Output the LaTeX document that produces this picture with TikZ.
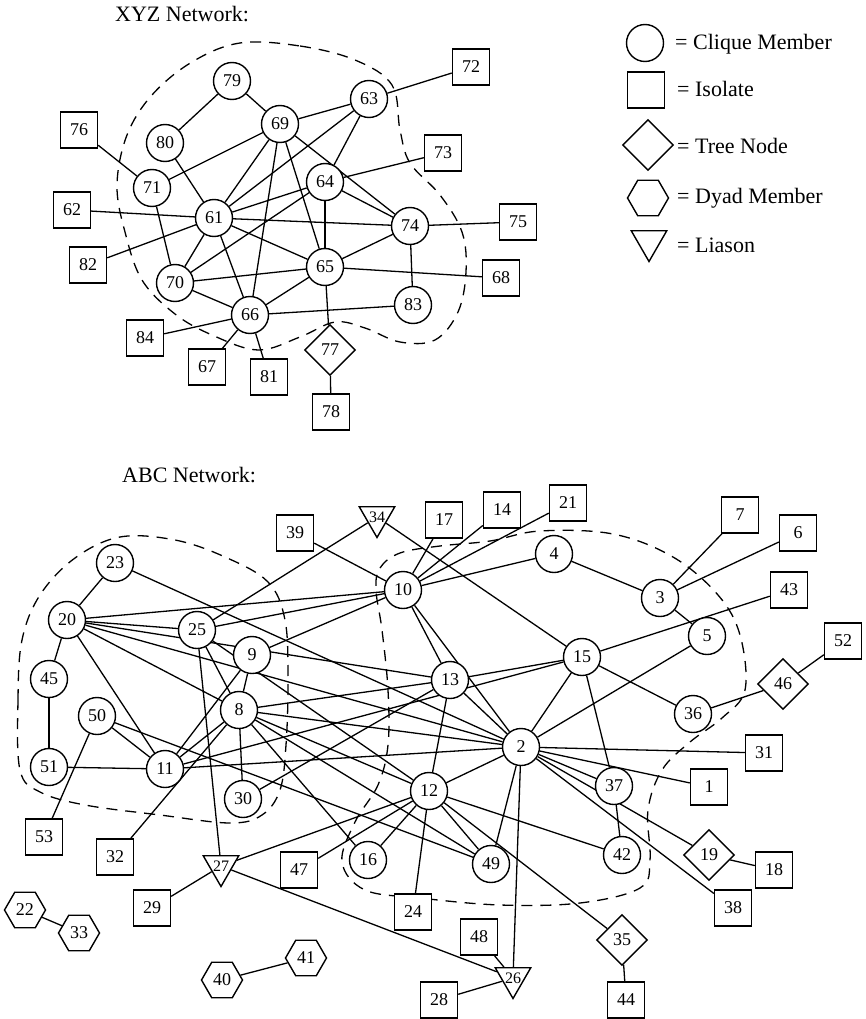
\documentclass[tikz,border=0pt]{standalone}
\usepackage{fontspec}
\setmainfont{Liberation Serif}
\usetikzlibrary{shapes.geometric,backgrounds}

\tikzset{
	clq/.style={circle, draw, line width=1.4pt, fill=white, minimum size=37pt, inner sep=0pt},
	iso/.style={rectangle, draw, line width=1.4pt, fill=white, minimum width=37pt, minimum height=36pt, inner sep=0pt},
	tree/.style={diamond, draw, line width=1.4pt, fill=white, minimum size=51pt, inner sep=0pt},
	dyad/.style={regular polygon, regular polygon sides=6, draw, line width=1.4pt, fill=white, minimum size=41pt, inner sep=0pt},
	lia/.style={regular polygon, regular polygon sides=3, shape border rotate=180, draw, line width=1.4pt, fill=white, minimum size=41pt, inner sep=-4pt, font=\fontsize{16}{16}\selectfont},
	link/.style={line width=1.3pt},
	blob/.style={line width=1.3pt, dash pattern=on 11pt off 8pt},
	ttl/.style={font=\fontsize{22}{24}\selectfont, inner sep=0pt, anchor=base west},
}

\begin{document}
\begin{tikzpicture}[x=1pt, y=-1pt, font=\fontsize{18}{18}\selectfont]
		\useasboundingbox (0,0) rectangle (865,1019);
		% Titles
		\node[ttl] (xyz) at (115,22) {XYZ Network:};
		\node[ttl] (abc) at (122,482) {ABC Network:};
		% Legend
		\node[clq] (kclq) at (645,43) {};
		\node[iso] (kiso) at (646,90) {};
		\node[tree] (ktree) at (648,145) {};
		\node[dyad] (kdyad) at (648,198) {};
		\node[lia] (klia) at (649,241) {};
		\node[ttl] (tclq) at (675,50) {= Clique Member};
		\node[ttl] (tiso) at (677,97) {= Isolate};
		\node[ttl] (ttree) at (677,154) {= Tree Node};
		\node[ttl] (tdyad) at (677,204) {= Dyad Member};
		\node[ttl] (tlia) at (677,252) {= Liason};
		% XYZ network
		\node[clq] (n79) at (232,81) {79};
		\node[clq] (n80) at (165,143) {80};
		\node[clq] (n71) at (152,188) {71};
		\node[iso] (n76) at (79,130) {76};
		\node[iso] (n62) at (72,210) {62};
		\node[clq] (n61) at (214,218) {61};
		\node[clq] (n69) at (280,124) {69};
		\node[clq] (n63) at (369,99) {63};
		\node[iso] (n72) at (471,67) {72};
		\node[iso] (n73) at (443,153) {73};
		\node[clq] (n64) at (325,182) {64};
		\node[clq] (n74) at (410,226) {74};
		\node[iso] (n75) at (518,222) {75};
		\node[clq] (n65) at (325,267) {65};
		\node[iso] (n68) at (501,278) {68};
		\node[clq] (n83) at (413,305) {83};
		\node[clq] (n70) at (175,283) {70};
		\node[iso] (n82) at (88,265) {82};
		\node[clq] (n66) at (250,315) {66};
		\node[iso] (n84) at (145,338) {84};
		\node[iso] (n67) at (207,367) {67};
		\node[iso] (n81) at (269,377) {81};
		\node[tree] (n77) at (330,350) {77};
		\node[iso] (n78) at (331,412) {78};
		% ABC network
		\node[clq] (n23) at (115,563) {23};
		\node[clq] (n20) at (67,620) {20};
		\node[clq] (n25) at (197,630) {25};
		\node[clq] (n9) at (252,655) {9};
		\node[clq] (n45) at (49,679) {45};
		\node[clq] (n50) at (97,716) {50};
		\node[clq] (n51) at (49,767) {51};
		\node[clq] (n11) at (165,769) {11};
		\node[clq] (n8) at (239,710) {8};
		\node[clq] (n30) at (243,799) {30};
		\node[iso] (n39) at (295,533) {39};
		\node[lia] (n34) at (377,517) {34};
		\node[iso] (n17) at (444,520) {17};
		\node[iso] (n14) at (502,510) {14};
		\node[iso] (n21) at (568,503) {21};
		\node[clq] (n10) at (403,590) {10};
		\node[clq] (n4) at (554,554) {4};
		\node[iso] (n7) at (740,515) {7};
		\node[iso] (n6) at (798,533) {6};
		\node[iso] (n43) at (789,590) {43};
		\node[clq] (n3) at (660,598) {3};
		\node[clq] (n5) at (707,636) {5};
		\node[iso] (n52) at (843,641) {52};
		\node[clq] (n15) at (582,657) {15};
		\node[tree] (n46) at (783,684) {46};
		\node[clq] (n36) at (693,714) {36};
		\node[iso] (n31) at (764,753) {31};
		\node[iso] (n1) at (709,787) {1};
		\node[clq] (n37) at (614,786) {37};
		\node[clq] (n2) at (521,747) {2};
		\node[clq] (n13) at (450,680) {13};
		\node[clq] (n12) at (429,791) {12};
		\node[clq] (n16) at (368,860) {16};
		\node[clq] (n49) at (491,864) {49};
		\node[iso] (n47) at (299,870) {47};
		\node[clq] (n42) at (622,855) {42};
		\node[tree] (n19) at (709,855) {19};
		\node[iso] (n18) at (774,870) {18};
		\node[iso] (n38) at (733,908) {38};
		\node[tree] (n35) at (622,940) {35};
		\node[iso] (n44) at (626,1000) {44};
		\node[iso] (n53) at (44,837) {53};
		\node[iso] (n32) at (115,857) {32};
		\node[lia] (n27) at (221,866) {27};
		\node[iso] (n29) at (152,908) {29};
		\node[dyad] (n22) at (25,910) {22};
		\node[dyad] (n33) at (79,933) {33};
		\node[iso] (n24) at (413,912) {24};
		\node[iso] (n48) at (479,937) {48};
		\node[dyad] (n40) at (222,980) {40};
		\node[dyad] (n41) at (306,958) {41};
		\node[lia] (n26) at (513,978) {26};
		\node[iso] (n28) at (439,1000) {28};
		\begin{scope}[on background layer]
			% Clique boundaries
			\draw[blob] plot[smooth cycle, tension=0.6] coordinates {(240,43) (300,46) (355,60) (392,85) (400,130) (410,163) (440,195) (462,232) (466,272) (458,312) (435,340) (400,342) (365,328) (335,322) (300,337) (258,350) (212,335) (175,314) (142,280) (125,232) (117,185) (127,135) (152,95) (192,62)};
			\draw[blob] plot[smooth cycle, tension=0.6] coordinates {(20,770) (18,700) (22,640) (40,595) (75,558) (120,537) (175,540) (225,557) (268,582) (285,620) (288,680) (286,745) (280,790) (262,815) (230,823) (160,815) (85,805) (40,792)};
			\draw[blob] plot[smooth cycle, tension=0.6] coordinates {(376,590) (380,568) (400,553) (440,546) (490,541) (540,531) (613,534) (673,557) (718,595) (740,635) (745,690) (722,718) (690,742) (662,770) (648,810) (650,860) (640,888) (580,903) (500,905) (420,898) (365,890) (342,862) (355,822) (378,785) (388,745) (388,690) (382,630)};
			% XYZ links
			\foreach \a/\b in {79/80, 79/69, 76/71, 71/69, 71/70, 80/61, 62/61, 82/61, 69/63, 69/61, 69/66, 69/65, 69/74, 63/72, 63/61, 63/64, 64/73, 64/61, 64/70, 64/65, 64/74, 61/74, 61/65, 61/70, 61/66, 74/75, 74/65, 74/83, 65/68, 65/70, 65/66, 65/77, 70/66, 66/83, 66/84, 66/67, 66/81, 77/78}
				\draw[link] (n\a) -- (n\b);
			% ABC links
			\foreach \a/\b in {23/20, 23/2, 20/45, 20/10, 20/25, 20/13, 20/2, 20/8, 20/11, 45/51, 51/11, 50/11, 50/49, 50/53, 25/10, 25/34, 25/8, 25/27, 25/12, 9/10, 9/11, 9/8, 11/8, 11/2, 11/15, 8/30, 8/13, 8/2, 8/12, 8/16, 8/49, 8/32, 30/13, 39/10, 34/15, 17/10, 14/10, 21/10, 4/10, 4/3, 3/7, 3/6, 3/5, 10/13, 10/2, 13/15, 13/2, 13/12, 15/43, 15/2, 15/36, 15/37, 36/46, 46/52, 5/2, 2/31, 2/1, 2/37, 2/19, 2/38, 2/49, 2/26, 2/12, 37/42, 12/27, 12/47, 12/16, 12/24, 12/49, 12/42, 12/35, 19/18, 35/44, 27/29, 27/26, 26/48, 26/28, 22/33, 40/41}
				\draw[link] (n\a) -- (n\b);
		\end{scope}
	\end{tikzpicture}
\end{document}
